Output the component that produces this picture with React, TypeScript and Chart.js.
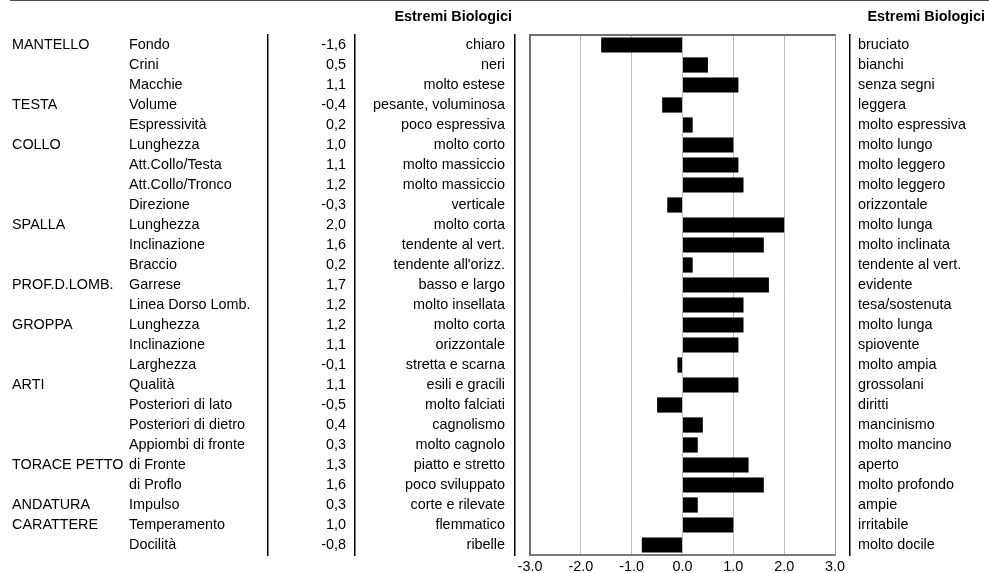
import React, { useEffect, useRef } from 'react';
import { Chart, registerables } from 'chart.js';

Chart.register(...registerables);

const HEADER = 'Estremi Biologici';

const groups = ['MANTELLO', '', '', 'TESTA', '', 'COLLO', '', '', '', 'SPALLA', '', '', 'PROF.D.LOMB.', '', 'GROPPA', '', '', 'ARTI', '', '', '', 'TORACE PETTO', '', 'ANDATURA', 'CARATTERE', ''];

const items = ['Fondo', 'Crini', 'Macchie', 'Volume', 'Espressività', 'Lunghezza', 'Att.Collo/Testa', 'Att.Collo/Tronco', 'Direzione', 'Lunghezza', 'Inclinazione', 'Braccio', 'Garrese', 'Linea Dorso Lomb.', 'Lunghezza', 'Inclinazione', 'Larghezza', 'Qualità', 'Posteriori di lato', 'Posteriori di dietro', 'Appiombi di fronte', 'di Fronte', 'di Proflo', 'Impulso', 'Temperamento', 'Docilità'];

const values = [-1.6, 0.5, 1.1, -0.4, 0.2, 1.0, 1.1, 1.2, -0.3, 2.0, 1.6, 0.2, 1.7, 1.2, 1.2, 1.1, -0.1, 1.1, -0.5, 0.4, 0.3, 1.3, 1.6, 0.3, 1.0, -0.8];

const leftExtremes = ['chiaro', 'neri', 'molto estese', 'pesante, voluminosa', 'poco espressiva', 'molto corto', 'molto massiccio', 'molto massiccio', 'verticale', 'molto corta', 'tendente al vert.', "tendente all'orizz.", 'basso e largo', 'molto insellata', 'molto corta', 'orizzontale', 'stretta e scarna', 'esili e gracili', 'molto falciati', 'cagnolismo', 'molto cagnolo', 'piatto e stretto', 'poco sviluppato', 'corte e rilevate', 'flemmatico', 'ribelle'];

const rightExtremes = ['bruciato', 'bianchi', 'senza segni', 'leggera', 'molto espressiva', 'molto lungo', 'molto leggero', 'molto leggero', 'orizzontale', 'molto lunga', 'molto inclinata', 'tendente al vert.', 'evidente', 'tesa/sostenuta', 'molto lunga', 'spiovente', 'molto ampia', 'grossolani', 'diritti', 'mancinismo', 'molto mancino', 'aperto', 'molto profondo', 'ampie', 'irritabile', 'molto docile'];

const valueLabels = values.map((v) => v.toFixed(1).replace('.', ','));

const X_MIN = -3;
const X_MAX = 3;
const X_STEP = 1;

const FONT_FAMILY = '"Liberation Sans", Arial, sans-serif';
const FONT_SIZE = 14.4;
const W = 989;
const H = 573;

const fixWidth = (w: number) => (s: any) => {
  s.width = w;
  s.paddingTop = 0;
  s.paddingBottom = 0;
};
const fixHeight = (h: number) => (s: any) => {
  s.height = h;
  s.paddingLeft = 0;
  s.paddingRight = 0;
};

const labelAxis = (labels: string[], position: string, weight: number, width: number, crossAlign: string, padding: number, border: boolean) => ({
  type: 'category',
  labels,
  position,
  weight,
  offset: true,
  grid: { display: false, drawTicks: false, tickLength: 0 },
  border: { display: border, color: '#000', width: 1.5 },
  ticks: {
    autoSkip: false,
    crossAlign,
    padding,
    color: '#000',
    font: { family: FONT_FAMILY, size: FONT_SIZE },
  },
  afterFit: fixWidth(width),
});

const decorPlugin = {
  id: 'decor',
  afterDraw(chart: any) {
    const ctx = chart.ctx;
    ctx.save();
    ctx.fillStyle = '#4d4d4d';
    ctx.fillRect(10, 0, chart.width - 10, 1);
    ctx.font = 'bold ' + FONT_SIZE + 'px ' + FONT_FAMILY;
    ctx.fillStyle = '#000';
    ctx.textAlign = 'right';
    ctx.textBaseline = 'middle';
    const e = chart.scales.yLeft;
    ctx.fillText(HEADER, e.right - 3, 17);
    ctx.fillText(HEADER, chart.width - 4, 17);
    ctx.restore();
  },
};

export default function App() {
  const ref = useRef<HTMLCanvasElement | null>(null);

  useEffect(() => {
    if (!ref.current) return;
    const chart = new Chart(ref.current, {
      type: 'bar',
      data: {
        labels: items,
        datasets: [
          {
            data: values,
            backgroundColor: '#000',
            borderWidth: 0,
            barPercentage: 0.76,
            categoryPercentage: 1,
            xAxisID: 'x',
            yAxisID: 'y',
          },
        ],
      },
      options: {
        indexAxis: 'y',
        responsive: false,
        animation: false,
        devicePixelRatio: 1,
        layout: { padding: { left: 12, right: 0, top: 0, bottom: 0 } },
        plugins: {
          legend: { display: false },
          tooltip: { enabled: false },
          title: { display: false },
        },
        scales: {
          x: {
            type: 'linear',
            position: 'bottom',
            min: X_MIN,
            max: X_MAX,
            z: 1,
            grid: {
              drawTicks: false,
              tickLength: 0,
              lineWidth: 1,
              color: (c: any) => (c.tick && (c.tick.value === X_MIN || c.tick.value === X_MAX) ? 'rgba(0,0,0,0)' : '#bdbdbd'),
            },
            border: { display: true, color: '#7a7a7a', width: 2 },
            ticks: {
              stepSize: X_STEP,
              padding: 3,
              color: '#000',
              font: { family: FONT_FAMILY, size: FONT_SIZE },
              maxRotation: 0,
              callback: (v: any) => Number(v).toFixed(1),
            },
            afterFit: fixHeight(18),
          },
          xTop: {
            type: 'linear',
            position: 'top',
            grid: { display: false, drawTicks: false, tickLength: 0 },
            border: { display: true, color: '#707070', width: 2 },
            ticks: { display: false },
            afterFit: fixHeight(35),
          },
          y: {
            type: 'category',
            position: 'left',
            weight: 0,
            offset: true,
            grid: { display: false, drawTicks: false, tickLength: 0 },
            border: { display: true, color: '#707070', width: 2 },
            ticks: { display: false },
            afterFit: fixWidth(15),
          },
          yLeft: labelAxis(leftExtremes, 'left', 1, 160, 'near', 10, true),
          yVal: labelAxis(valueLabels, 'left', 2, 87, 'near', 9, true),
          yItem: labelAxis(items, 'left', 3, 139, 'far', 0, true),
          yGroup: labelAxis(groups, 'left', 4, 117, 'far', 0, false),
          yRightGap: {
            type: 'linear',
            position: 'right',
            weight: 0,
            grid: { display: false, drawTicks: false, tickLength: 0 },
            border: { display: true, color: '#9a9a9a', width: 1 },
            ticks: { display: false },
            afterFit: fixWidth(15),
          },
          yRight: labelAxis(rightExtremes, 'right', 1, W - 850, 'near', 8, true),
        } as any,
      },
      plugins: [decorPlugin],
    } as any);
    return () => chart.destroy();
  }, []);

  return (
    <div style={{ position: 'absolute', left: 0, top: 0, width: W, height: H, background: '#fff' }}>
      <canvas ref={ref} width={W} height={H} style={{ display: 'block', width: W, height: H }} />
    </div>
  );
}
